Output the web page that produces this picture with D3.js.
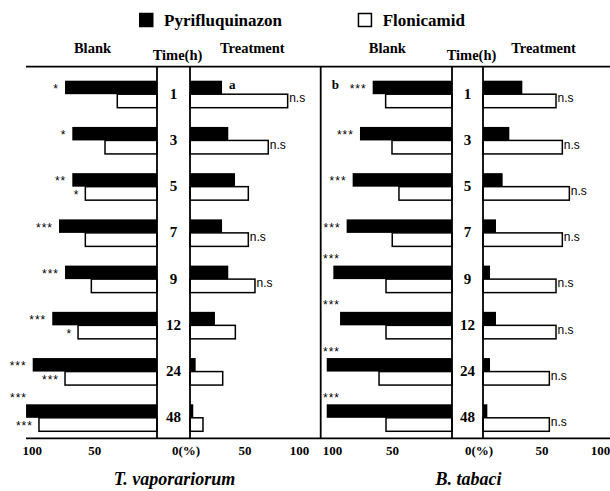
<!DOCTYPE html>
<html>
<head>
<meta charset="utf-8">
<script src="https://cdn.jsdelivr.net/npm/d3@7"></script>
<style>
  html, body { margin: 0; padding: 0; background: #fff; }
  svg { display: block; }
</style>
</head>
<body>
<svg id="chart" width="610" height="491"></svg>
<script>
// ---------------- DATA ----------------
const times = ["1", "3", "5", "7", "9", "12", "24", "48"];
const seriesNames = ["Pyrifluquinazon", "Flonicamid"];

// T. vaporariorum
const tvBlankPyr = [73.4, 67.6, 67.6, 78.2, 73.4, 83.6, 99.2, 104.5];
const tvBlankFlo = [31.7, 41.5, 57.2, 57.2, 52.4, 63.0, 73.4, 94.2];
const tvTreatPyr = [29.4, 35.1, 41.3, 29.4, 35.1, 22.9, 5.2, 3.0];
const tvTreatFlo = [89.6, 71.8, 53.5, 53.5, 59.6, 41.6, 30.0, 11.9];

// B. tabaci
const btBlankPyr = [66.1, 76.7, 82.8, 87.8, 98.9, 93.3, 104.4, 104.4];
const btBlankFlo = [55.3, 50.0, 44.2, 49.8, 55.0, 55.0, 60.8, 55.0];
const btTreatPyr = [33.6, 22.5, 16.8, 11.1, 6.0, 11.1, 6.0, 3.7];
const btTreatFlo = [62.4, 67.8, 73.8, 67.8, 62.4, 62.4, 56.7, 56.7];

// significance marks
const tvBlankPyrSig = ["*", "*", "**", "***", "***", "***", "***", "***"];
const tvBlankFloSig = ["", "", "*", "", "", "*", "***", "***"];
const tvTreatPyrSig = ["", "", "", "", "", "", "", ""];
const tvTreatFloSig = ["n.s", "n.s", "", "n.s", "n.s", "", "", ""];
const btBlankPyrSig = ["***", "***", "***", "***", "***", "***", "***", "***"];
const btBlankFloSig = ["", "", "", "", "", "", "", ""];
const btTreatPyrSig = ["", "", "", "", "", "", "", ""];
const btTreatFloSig = ["n.s", "n.s", "n.s", "n.s", "n.s", "n.s", "n.s", "n.s"];

// letters
const tvLetters = [{ side: "treat", time: "1", text: "a" }];
const btLetters = [{ side: "blank", time: "1", text: "b" }];

const blankTicks = [100, 50];
const treatTicks = [50, 100];
const headers = ["Blank", "Time(h)", "Treatment"];
const speciesNames = ["T. vaporariorum", "B. tabaci"];

// ---------------- LAYOUT ----------------
const W = 610, H = 491;
const topY = 66.7, botY = 438.3;
const barH = 13.5;
const serif = "'Liberation Serif', 'Times New Roman', serif";
const sans = "'Liberation Sans', Arial, sans-serif";

const svg = d3.select("#chart");

const y = d3.scalePoint().domain(times).range([94.2, 417.8]);

const panels = [
  {
    species: speciesNames[0],
    blank: d3.scaleLinear().domain([0, 100]).range([157, 31.7]),
    treat: d3.scaleLinear().domain([0, 100]).range([190, 299]),
    frameLeft: 26, starMin: 8, aboveX: 10,
    blankPyr: tvBlankPyr, blankFlo: tvBlankFlo, treatPyr: tvTreatPyr, treatFlo: tvTreatFlo,
    blankPyrSig: tvBlankPyrSig, blankFloSig: tvBlankFloSig, treatPyrSig: tvTreatPyrSig, treatFloSig: tvTreatFloSig,
    letters: tvLetters, rightEdge: 320.7
  },
  {
    species: speciesNames[1],
    blank: d3.scaleLinear().domain([0, 100]).range([452, 332]),
    treat: d3.scaleLinear().domain([0, 100]).range([483, 600]),
    frameLeft: 320.7, starMin: 322, aboveX: 323,
    blankPyr: btBlankPyr, blankFlo: btBlankFlo, treatPyr: btTreatPyr, treatFlo: btTreatFlo,
    blankPyrSig: btBlankPyrSig, blankFloSig: btBlankFloSig, treatPyrSig: btTreatPyrSig, treatFloSig: btTreatFloSig,
    letters: btLetters, rightEdge: 610
  }
];

// ---------------- LEGEND ----------------
const legendItems = [
  { name: seriesNames[0], fill: "#000", x: 139 },
  { name: seriesNames[1], fill: "#fff", x: 357.7 }
];
const lg = svg.append("g");
legendItems.forEach(d => {
  lg.append("rect").attr("x", d.x + 0.75).attr("y", 13.5).attr("width", 13).attr("height", 13)
    .attr("fill", d.fill).attr("stroke", "#000").attr("stroke-width", 1.5);
  lg.append("text").attr("x", d.x + 25).attr("y", 25.5)
    .attr("font-family", serif).attr("font-weight", "bold").attr("font-size", 17)
    .text(d.name);
});

// ---------------- FRAME ----------------
const frame = svg.append("g").attr("stroke", "#000").attr("stroke-width", 1.8);
frame.append("line").attr("x1", 26).attr("x2", W).attr("y1", topY).attr("y2", topY);
frame.append("line").attr("x1", 26).attr("x2", W).attr("y1", botY).attr("y2", botY);

panels.forEach(p => {
  const g = svg.append("g");
  const colL = p.blank(0), colR = p.treat(0);
  const colC = (colL + colR) / 2;

  // headers
  const hdr = g.append("g").attr("font-family", serif).attr("font-weight", "bold")
    .attr("font-size", 14.5).attr("text-anchor", "middle");
  hdr.append("text").attr("x", (p.frameLeft + colL) / 2 + 1).attr("y", 52.7).text(headers[0]);
  hdr.append("text").attr("x", colC + 4).attr("y", 60).text(headers[1]);
  hdr.append("text").attr("x", (colR + p.rightEdge) / 2 - 3).attr("y", 52.7).text(headers[2]);

  // bars - blank side (extend leftwards from column)
  const series = [
    { vals: p.blankPyr, sc: p.blank, fill: "#000", off: -barH, sig: p.blankPyrSig, side: "blank" },
    { vals: p.blankFlo, sc: p.blank, fill: "#fff", off: 0, sig: p.blankFloSig, side: "blank" },
    { vals: p.treatPyr, sc: p.treat, fill: "#000", off: -barH, sig: p.treatPyrSig, side: "treat" },
    { vals: p.treatFlo, sc: p.treat, fill: "#fff", off: 0, sig: p.treatFloSig, side: "treat" }
  ];

  series.forEach(s => {
    const z = s.sc(0);
    g.append("g").selectAll("rect").data(times).join("rect")
      .attr("x", (t, i) => Math.min(z, s.sc(s.vals[i])))
      .attr("y", t => y(t) + s.off)
      .attr("width", (t, i) => Math.abs(s.sc(s.vals[i]) - z))
      .attr("height", barH)
      .attr("fill", s.fill)
      .attr("stroke", s.fill === "#fff" ? "#000" : "none")
      .attr("stroke-width", 1.5);

    // significance labels
    times.forEach((t, i) => {
      const txt = s.sig[i];
      if (!txt) return;
      const end = s.sc(s.vals[i]);
      const cy = y(t) + s.off + barH / 2;
      if (s.side === "blank") {
        const w = txt.length * 5.7;
        if (end - 6 - w >= p.starMin) {
          g.append("text").attr("x", end - 6).attr("y", cy + 5.5)
            .attr("text-anchor", "end").attr("font-family", sans).attr("font-size", 12)
            .attr("letter-spacing", 1).text(txt);
        } else {
          g.append("text").attr("x", p.aboveX).attr("y", y(t) + s.off - 8 + 5.5)
            .attr("text-anchor", "start").attr("font-family", sans).attr("font-size", 12)
            .attr("letter-spacing", 1).text(txt);
        }
      } else {
        g.append("text").attr("x", end + 1.5).attr("y", cy + 1.5)
          .attr("font-family", sans).attr("font-size", 12).text(txt);
      }
    });
  });

  // letters
  p.letters.forEach(l => {
    const cy = y(l.time) - barH / 2;
    const x = l.side === "treat" ? p.treat(p.treatPyr[times.indexOf(l.time)]) + 7 : p.frameLeft + 11;
    g.append("text").attr("x", x).attr("y", cy + 1.8)
      .attr("font-family", serif).attr("font-weight", "bold").attr("font-size", 13)
      .text(l.text);
  });

  // column lines & panel right border
  const ln = g.append("g").attr("stroke", "#000").attr("stroke-width", 1.8);
  [colL, colR].forEach(x => ln.append("line").attr("x1", x).attr("x2", x).attr("y1", topY).attr("y2", botY));
  if (p.rightEdge < W) ln.append("line").attr("x1", p.rightEdge).attr("x2", p.rightEdge).attr("y1", topY).attr("y2", botY);

  // time labels
  g.append("g").selectAll("text").data(times).join("text")
    .attr("x", colC).attr("y", t => y(t) + 4.5)
    .attr("text-anchor", "middle").attr("font-family", serif).attr("font-weight", "bold")
    .attr("font-size", 15).text(t => t);

  // axes
  const axB = g.append("g").attr("transform", `translate(0,${455})`)
    .call(d3.axisBottom(p.blank).tickValues(blankTicks).tickSize(0).tickPadding(0));
  const axT = g.append("g").attr("transform", `translate(0,${455})`)
    .call(d3.axisBottom(p.treat).tickValues(treatTicks).tickSize(0).tickPadding(0));
  [axB, axT].forEach(a => {
    a.select(".domain").remove();
    a.selectAll("text").attr("dy", null).attr("y", 0)
      .attr("font-family", serif).attr("font-weight", "bold").attr("font-size", 13).attr("fill", "#000");
  });
  g.append("text").attr("x", colR - 4).attr("y", 455).attr("text-anchor", "middle")
    .attr("font-family", serif).attr("font-weight", "bold").attr("font-size", 13).text("0(%)");

  // species title
  g.append("text").attr("x", colC + 1).attr("y", 485).attr("text-anchor", "middle")
    .attr("font-family", serif).attr("font-weight", "bold").attr("font-style", "italic")
    .attr("font-size", 18).text(p.species);
});
</script>
</body>
</html>
